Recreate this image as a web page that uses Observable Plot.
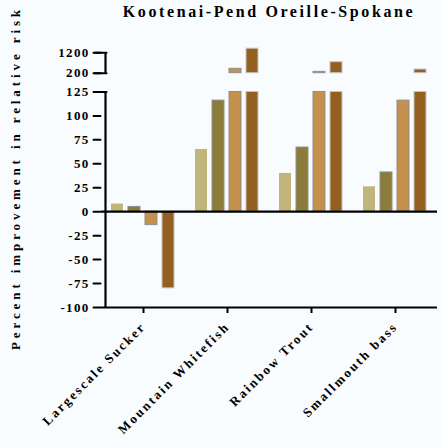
<!DOCTYPE html>
<html><head><meta charset="utf-8">
<script src="https://cdn.jsdelivr.net/npm/d3@7"></script>
<script src="https://cdn.jsdelivr.net/npm/@observablehq/plot@0.6"></script>
<style>
html,body{margin:0;padding:0;background:#f8fcfe;}
#wrap{position:relative;width:442px;height:448px;overflow:hidden;}
#title{position:absolute;left:100px;width:338px;top:3px;text-align:center;font-family:"Liberation Serif",serif;font-weight:bold;font-size:16px;letter-spacing:2.6px;color:#000;white-space:nowrap;}
#wrap svg{position:absolute;left:0;top:0;}
g[aria-label="fx-axis tick label"] text{letter-spacing:2.2px;}
</style></head><body>
<div id="wrap"><div id="title">Kootenai-Pend Oreille-Spokane</div></div>
<script>
const categories = ["Largescale Sucker", "Mountain Whitefish", "Rainbow Trout", "Smallmouth bass"];
const series = ["Scenario 1", "Scenario 2", "Scenario 3", "Scenario 4"];
const seriesColors = ["#c1b57b", "#8b7c3a", "#c6914f", "#93601f"];
const seriesStrokes = ["none", "#8e8e8e", "#8e8e8e", "#c4c4c4"];
const largescaleSucker = [8, 5, -14, -80];
const mountainWhitefish = [65, 116, 415, 1400];
const rainbowTrout = [40, 67, 265, 740];
const smallmouthBass = [26, 41, 116, 380];
const yTicks = [-100, -75, -50, -25, 0, 25, 50, 75, 100, 125, 200, 1200];
const capTicks = [125, 200, 1200];
const yLabel = "Percent improvement in relative risk";
const breakLow = 125, breakHigh = 200;
const axisSegments = [{y1: -100, y2: 125}, {y1: 200, y2: 1200}];

// broken-axis mapping: gap between 125 and 200, compressed upper segment
const gapUnits = 19.6, upperScale = 0.0213;
const breakY = v => v <= breakLow ? v
  : v < breakHigh ? breakLow + (v - breakLow) / (breakHigh - breakLow) * gapUnits
  : breakLow + gapUnits + (v - breakHigh) * upperScale;

const valueLists = [largescaleSucker, mountainWhitefish, rainbowTrout, smallmouthBass];
const rows = [];
categories.forEach((c, i) => series.forEach((s, j) => rows.push({category: c, series: s, value: valueLists[i][j]})));
const strokeOf = d => seriesStrokes[series.indexOf(d.series)];
const ink = "#000";
const firstFacet = () => categories[0];
const tickLeft = {draw(context, l) { context.moveTo(0, 0); context.lineTo(-l, 0); }};

const plot = Plot.plot({
  width: 442, height: 448,
  marginLeft: 100, marginRight: 4, marginTop: 48, marginBottom: 141,
  style: {background: "transparent", fontFamily: "'Liberation Serif', serif", fontWeight: "bold", fontSize: "13px", color: "#000"},
  fx: {domain: categories, padding: 0, label: null, axis: null},
  x: {domain: series, paddingInner: 0.28, paddingOuter: 0.49, axis: null},
  y: {transform: breakY, domain: [breakY(-100), breakY(1200)], range: [307, 52.3], axis: null},
  color: {domain: series, range: seriesColors},
  marks: [
    Plot.barY(rows, {fx: "category", x: "series", y1: 0, y2: d => Math.min(d.value, breakLow), fill: "series", stroke: strokeOf, strokeWidth: 1}),
    Plot.barY(rows.filter(d => d.value > breakHigh), {fx: "category", x: "series", y1: breakHigh, y2: "value", fill: "series", stroke: strokeOf, strokeWidth: 1}),
    Plot.ruleY([0], {stroke: ink, strokeWidth: 2.2}),
    Plot.ruleY([-100], {stroke: ink, strokeWidth: 2.2}),
    Plot.ruleX(axisSegments, {fx: firstFacet, x: () => series[0], dx: -12, y1: "y1", y2: "y2", stroke: ink, strokeWidth: 2.2}),
    // y ticks, caps and labels as ordinary marks so they pass through the broken scale
    Plot.vector(yTicks, {fx: firstFacet, y: d => d, frameAnchor: "left", dx: -1, length: 7, anchor: "start", shape: tickLeft, stroke: ink, strokeWidth: 2}),
    Plot.vector(capTicks, {fx: firstFacet, y: d => d, frameAnchor: "left", dx: 5, length: 12, anchor: "start", shape: tickLeft, stroke: ink, strokeWidth: 2}),
    Plot.text(yTicks, {fx: firstFacet, y: d => d, text: d => String(d), frameAnchor: "left", textAnchor: "end", dx: -12, fontSize: 13, fill: ink}),
    Plot.text([yLabel], {fx: firstFacet, text: d => d, frameAnchor: "left", rotate: -90, textAnchor: "middle", dx: -86, fontSize: 13, fill: ink}),
    Plot.axisFx({anchor: "bottom", tickRotate: -45, tickSize: 6, tickPadding: 11, stroke: ink, strokeWidth: 2, label: null, fontSize: 13})
  ]
});
// letter spacing of the bold serif labels, as in the reference
const tickStrings = new Set(yTicks.map(String));
d3.select(plot).selectAll("text").each(function() {
  const t = this.textContent;
  if (t === yLabel) this.style.letterSpacing = "3.9px";
  else if (tickStrings.has(t)) this.style.letterSpacing = "1.3px";
});
document.getElementById("wrap").appendChild(plot);
</script>
</body></html>
